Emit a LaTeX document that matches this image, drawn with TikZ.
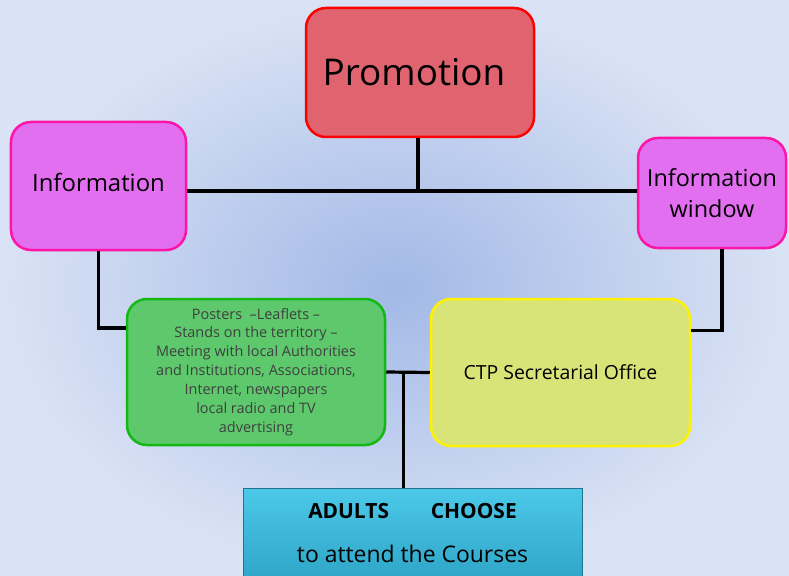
\documentclass[tikz,border=0pt]{standalone}
\usepackage{fontspec}
\setmainfont{Open Sans}
\usetikzlibrary{calc}
\definecolor{bgin}{HTML}{A2B8E6}
\definecolor{bgout}{HTML}{DAE3F5}
\definecolor{promofill}{HTML}{E0646F}
\definecolor{infofill}{HTML}{E26EF0}
\definecolor{infoline}{HTML}{FF14A8}
\definecolor{greenfill}{HTML}{5DC96C}
\definecolor{greenline}{HTML}{14B814}
\definecolor{yellowfill}{HTML}{D9E478}
\definecolor{cyantop}{HTML}{4CC9EA}
\definecolor{cyanbot}{HTML}{2FA6C8}
\begin{document}
\begin{tikzpicture}[x=1bp,y=-1bp,
    box/.style={rounded corners=20bp,line width=2.5bp,inner sep=0pt,align=center},
    link/.style={line width=3.2bp}]
        \useasboundingbox (0,0) rectangle (789,576);
        \shade[inner color=bgin,outer color=bgout] (0,0) rectangle (789,576);
        \node[box,draw=red,fill=promofill,minimum width=228bp,minimum height=129bp,font=\fontsize{37}{40}\selectfont] (promo) at (420,72.5) {\hspace*{-12bp}Promotion};
        \node[box,draw=infoline,fill=infofill,minimum width=175bp,minimum height=128bp,font=\fontsize{24}{28}\selectfont] (info) at (98.5,186) {\raisebox{8bp}{Information}};
        \node[box,draw=infoline,fill=infofill,minimum width=148bp,minimum height=110bp,font=\fontsize{23.5}{31}\selectfont] (infowin) at (712,193) {Information\\window};
        \node[box,draw=greenline,fill=greenfill,minimum width=258bp,minimum height=146bp,text=black!75,font=\fontsize{14.5}{19}\selectfont] (posters) at (256,372) {Posters~ --Leaflets --\\Stands on the territory --\\Meeting with local Authorities\\and Institutions, Associations,\\Internet, newspapers\\local radio and TV\\advertising};
        \node[box,draw=yellow,fill=yellowfill,minimum width=259bp,minimum height=147bp,font=\fontsize{19.5}{22}\selectfont] (ctp) at (560.5,372.5) {CTP Secretarial Office};
        \node[inner sep=0pt,minimum width=339bp,minimum height=90bp,draw=cyanbot!70!black,line width=1bp,top color=cyantop,bottom color=cyanbot,align=center] (adults) at (412.5,533) {\raisebox{4bp}{\fontsize{21}{24}\selectfont\bfseries ADULTS\qquad CHOOSE}\\[22bp]{\fontsize{23}{26}\selectfont to attend the Courses}};
        \coordinate (hub) at (418,191);
        \coordinate (mid) at ($(posters.east)!0.5!(ctp.west)$);
        \draw[link,line width=4bp] (promo.south -| hub) -- (hub);
        \draw[link] (info.east |- hub) -- (infowin.west |- hub);
        \draw[link] (info.south) |- ([yshift=44bp]posters.west);
        \draw[link] ([xshift=10bp]infowin.south) |- ([yshift=42bp]ctp.east);
        \draw[link] (posters.east) -- (ctp.west);
        \draw[link] ([xshift=-4.5bp]mid) -- ([xshift=-4.5bp]mid |- adults.north);
        \end{tikzpicture}
\end{document}
